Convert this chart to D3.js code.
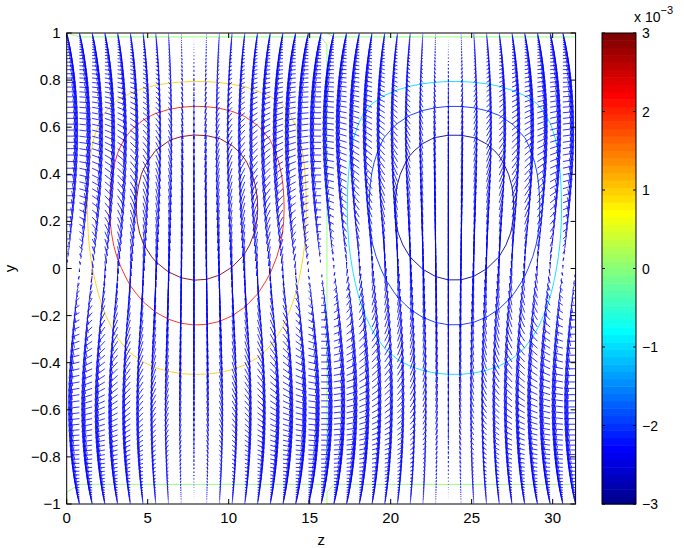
<!DOCTYPE html>
<html><head><meta charset="utf-8">
<script src="https://cdn.jsdelivr.net/npm/d3@7"></script>
<style>
body{margin:0;background:#fff}
svg{display:block}
text{font-family:"Liberation Sans",Arial,Helvetica,sans-serif;fill:#000}
</style>
</head><body>
<svg id="fig" width="684" height="548"></svg>
<script>
// ---- grid (spanwise z, wall-normal y) ----
const zGrid = [0, 0.7854, 1.5708, 2.3562, 3.1416, 3.9270, 4.7124, 5.4978, 6.2832, 7.0686,
  7.8540, 8.6394, 9.4248, 10.2102, 10.9956, 11.7810, 12.5664, 13.3518, 14.1372, 14.9226,
  15.7080, 16.4934, 17.2788, 18.0642, 18.8496, 19.6350, 20.4204, 21.2058, 21.9911, 22.7765,
  23.5619, 24.3473, 25.1327, 25.9181, 26.7035, 27.4889, 28.2743, 29.0597, 29.8451, 30.6305, 31.4159];
// spanwise phase of the roll velocities in each column
const sinCol = [0, .1564, .3090, .4540, .5878, .7071, .8090, .8910, .9511, .9877, 1, .9877, .9511, .8910, .8090, .7071, .5878, .4540, .3090, .1564,
  0, -.1564, -.3090, -.4540, -.5878, -.7071, -.8090, -.8910, -.9511, -.9877, -1, -.9877, -.9511, -.8910, -.8090, -.7071, -.5878, -.4540, -.3090, -.1564, 0];
const cosCol = [1, .9877, .9511, .8910, .8090, .7071, .5878, .4540, .3090, .1564, 0, -.1564, -.3090, -.4540, -.5878, -.7071, -.8090, -.8910, -.9511, -.9877,
  -1, -.9877, -.9511, -.8910, -.8090, -.7071, -.5878, -.4540, -.3090, -.1564, 0, .1564, .3090, .4540, .5878, .7071, .8090, .8910, .9511, .9877, 1];
// spanwise shape of the streak in each column
const streakCol = [0, .1529, .3023, .4445, .5763, .6946, .7963, .8795, .9419, .9823, .9994, .9929, .9635, .9111, .8373, .7443, .6327, .5073, .3698, .2226,
  .0707, -.0844, -.2391, -.3878, -.5271, -.6534, -.7636, -.8548, -.9255, -.9735, -.9972, -.9966, -.9716, -.9223, -.8510, -.7585, -.6478, -.5211, -.3816, -.2313, -.0766];

// rows of the arrow field
const yRows = [1, .9995, .9980, .9956, .9921, .9877, .9823, .9759, .9686, .9603, .9511, .9409, .9298, .9178, .9048, .8910, .8763, .8607, .8443, .8271,
  .8090, .7902, .7705, .7501, .7290, .7071, .6846, .6613, .6374, .6129, .5878, .5621, .5358, .5090, .4818, .4540, .4258, .3971, .3681, .3387,
  .3090, .2790, .2487, .2181, .1874, .1564, .1253, .0941, .0628, .0314, 0,
  -.0314, -.0628, -.0941, -.1253, -.1564, -.1874, -.2181, -.2487, -.2790, -.3090, -.3387, -.3681, -.3971, -.4258, -.4540, -.4818, -.5090, -.5358, -.5621,
  -.5878, -.6129, -.6374, -.6613, -.6846, -.7071, -.7290, -.7501, -.7705, -.7902, -.8090, -.8271, -.8443, -.8607, -.8763, -.8910, -.9048, -.9178, -.9298,
  -.9409, -.9511, -.9603, -.9686, -.9759, -.9823, -.9877, -.9921, -.9956, -.9980, -.9995, -1];
// wall-normal velocity amplitude per row
const vProfile = [0, 0, 0, -.0001, -.0002, -.0006, -.0012, -.0023, -.0038, -.0061, -.0091, -.0132, -.0184, -.0249, -.0329, -.0425, -.0539, -.0671, -.0824, -.0998,
  -.1194, -.1411, -.1651, -.1913, -.2196, -.2500, -.2824, -.3166, -.3525, -.3898, -.4284, -.4679, -.5082, -.5489, -.5897, -.6303, -.6703, -.7094, -.7473, -.7837,
  -.8181, -.8504, -.8801, -.9071, -.9310, -.9517, -.9688, -.9824, -.9921, -.9980, -1,
  -.9980, -.9921, -.9824, -.9688, -.9517, -.9310, -.9071, -.8801, -.8504, -.8181, -.7837, -.7473, -.7094, -.6703, -.6303, -.5897, -.5489, -.5082, -.4679,
  -.4284, -.3898, -.3525, -.3166, -.2824, -.2500, -.2196, -.1913, -.1651, -.1411, -.1194, -.0998, -.0824, -.0671, -.0539, -.0425, -.0329, -.0249, -.0184,
  -.0132, -.0091, -.0061, -.0038, -.0023, -.0012, -.0006, -.0002, -.0001, 0, 0, 0];
// spanwise velocity amplitude per row
const wProfile = [0, .020, .079, .176, .312, .483, .690, .929, 1.198, 1.495, 1.816, 2.159, 2.520, 2.895, 3.281, 3.673, 4.068, 4.461, 4.848, 5.226,
  5.590, 5.937, 6.261, 6.561, 6.832, 7.071, 7.275, 7.442, 7.569, 7.653, 7.694, 7.690, 7.640, 7.543, 7.399, 7.208, 6.972, 6.690, 6.365, 5.998,
  5.590, 5.146, 4.666, 4.155, 3.616, 3.052, 2.467, 1.866, 1.251, .628, 0,
  -.628, -1.251, -1.866, -2.467, -3.052, -3.616, -4.155, -4.666, -5.146, -5.590, -5.998, -6.365, -6.690, -6.972, -7.208, -7.399, -7.543, -7.640, -7.690,
  -7.694, -7.653, -7.569, -7.442, -7.275, -7.071, -6.832, -6.561, -6.261, -5.937, -5.590, -5.226, -4.848, -4.461, -4.068, -3.673, -3.281, -2.895, -2.520,
  -2.159, -1.816, -1.495, -1.198, -.929, -.690, -.483, -.312, -.176, -.079, -.020, 0];

// streak amplitude (x 10^-3) on an even y grid, y = 1 ... -1 step 0.05
const yLevels = [1, .95, .9, .85, .8, .75, .7, .65, .6, .55, .5, .45, .4, .35, .3, .25, .2, .15, .1, .05, 0,
  -.05, -.1, -.15, -.2, -.25, -.3, -.35, -.4, -.45, -.5, -.55, -.6, -.65, -.7, -.75, -.8, -.85, -.9, -.95, -1];
const streakProfile = [-.06, .12, .38, .66, .95, 1.38, 1.90, 2.35, 2.75, 3.13, 3.42, 3.65, 3.83, 3.95, 4.02, 4.04, 4.00, 3.90, 3.74, 3.52, 3.26,
  3.00, 2.73, 2.46, 2.20, 1.95, 1.71, 1.48, 1.24, 1.00, .84, .70, .58, .46, .36, .27, .18, .10, .02, -.04, -.06];
const contourLevels = [-3, -2, -1, 0, 1, 2, 3];

// axis ticks
const zTicks = [0, 5, 10, 15, 20, 25, 30];
const yTicks = [-1, -0.8, -0.6, -0.4, -0.2, 0, 0.2, 0.4, 0.6, 0.8, 1];
const cbTicks = [-3, -2, -1, 0, 1, 2, 3];

// ---- layout ----
const svg = d3.select('#fig');
const L = 66.7, R = 575.6, T = 33, B = 504;
const x = d3.scaleLinear().domain([zGrid[0], zGrid[zGrid.length - 1]]).range([L, R]);
const y = d3.scaleLinear().domain([-1, 1]).range([B, T]);

// MATLAB-style jet colormap with 64 entries
function jet(m) {
  const n = Math.ceil(m / 4), u = [];
  for (let i = 1; i <= n; i++) u.push(i / n);
  for (let i = 1; i < n; i++) u.push(1);
  for (let i = n; i >= 1; i--) u.push(i / n);
  const g0 = Math.ceil(n / 2) - (m % 4 === 1 ? 1 : 0);
  const map = Array.from({length: m}, () => [0, 0, 0]);
  u.forEach((val, k) => {
    const g = g0 + k + 1, r = g + n, b = g - n;
    if (g >= 1 && g <= m) map[g - 1][1] = val;
    if (r >= 1 && r <= m) map[r - 1][0] = val;
    if (b >= 1 && b <= m) map[b - 1][2] = val;
  });
  return map.map(c => d3.rgb(c[0] * 255, c[1] * 255, c[2] * 255).toString());
}
const cmap = jet(64);
const cmin = -3, cmax = 3;
const colorOf = v => cmap[Math.max(0, Math.min(63, Math.floor((v - cmin) / (cmax - cmin) * 64)))];

svg.append('clipPath').attr('id', 'pc').append('rect')
  .attr('x', L).attr('y', T).attr('width', R - L).attr('height', B - T);
const plot = svg.append('g').attr('clip-path', 'url(#pc)');

// ---- contours of the streak field ----
const nx = zGrid.length, ny = yLevels.length;
const psi = new Array(nx * ny);
for (let j = 0; j < ny; j++) for (let i = 0; i < nx; i++) psi[j * nx + i] = streakProfile[j] * streakCol[i];
const ix = d3.scaleLinear().domain([0, nx - 1]).range([zGrid[0], zGrid[nx - 1]]);
const iy = d3.scaleLinear().domain([0, ny - 1]).range([yLevels[0], yLevels[ny - 1]]);
const gen = d3.contours().size([nx, ny]).thresholds(contourLevels);
gen(psi).forEach(c => {
  const pieces = [];
  const onEdge = (p, q) => (p[0] === 0 && q[0] === 0) || (p[0] === nx && q[0] === nx) ||
                           (p[1] === 0 && q[1] === 0) || (p[1] === ny && q[1] === ny);
  c.coordinates.forEach(poly => poly.forEach(ring => {
    let cur = null;
    for (let k = 0; k < ring.length - 1; k++) {
      const p = ring[k], q = ring[k + 1];
      if (onEdge(p, q)) { cur = null; continue; }
      if (!cur) { cur = [p]; pieces.push(cur); }
      cur.push(q);
    }
  }));
  const toXY = p => [x(ix(Math.max(0, Math.min(nx - 1, p[0] - 0.5)))), y(iy(Math.max(0, Math.min(ny - 1, p[1] - 0.5))))];
  const line = d3.line();
  plot.append('path')
    .attr('d', pieces.map(pc => line(pc.map(toXY))).join(''))
    .attr('fill', 'none').attr('stroke', colorOf(c.value)).attr('stroke-width', 0.9);
});

// ---- quiver (MATLAB autoscale and arrow heads) ----
const m = yRows.length, n = zGrid.length;
const U = [], V = [];
for (let j = 0; j < m; j++) for (let i = 0; i < n; i++) {
  U.push(wProfile[j] * cosCol[i]);
  V.push(vProfile[j] * sinCol[i]);
}
const delx = (d3.max(zGrid) - d3.min(zGrid)) / n;
const dely = (d3.max(yRows) - d3.min(yRows)) / m;
const del = delx * delx + dely * dely;
const maxlen = d3.max(U.map((u, k) => Math.sqrt((u * u + V[k] * V[k]) / del)));
const sc = 0.9 / maxlen;
const alpha = 0.33, beta = 0.33, eps = 2.2e-16;
let d = '';
const f = v => v.toFixed(2);
for (let j = 0; j < m; j++) for (let i = 0; i < n; i++) {
  const k = j * n + i, u = U[k] * sc, v = V[k] * sc, z0 = zGrid[i], y0 = yRows[j];
  const tx = z0 + u, ty = y0 + v;
  d += `M${f(x(z0))},${f(y(y0))}L${f(x(tx))},${f(y(ty))}`;
  const h1x = tx - alpha * (u + beta * (v + eps)), h1y = ty - alpha * (v - beta * (u + eps));
  const h2x = tx - alpha * (u - beta * (v + eps)), h2y = ty - alpha * (v + beta * (u + eps));
  d += `M${f(x(h1x))},${f(y(h1y))}L${f(x(tx))},${f(y(ty))}L${f(x(h2x))},${f(y(h2y))}`;
}
plot.append('path').attr('d', d).attr('fill', 'none').attr('stroke', '#0000ff').attr('stroke-width', 0.8);

// ---- axes box and ticks ----
const ax = svg.append('g');
ax.append('rect').attr('x', L).attr('y', T).attr('width', R - L).attr('height', B - T)
  .attr('fill', 'none').attr('stroke', '#000').attr('stroke-width', 1);
const tk = 5;
zTicks.forEach(t => {
  ax.append('line').attr('x1', x(t)).attr('x2', x(t)).attr('y1', B).attr('y2', B - tk).attr('stroke', '#000');
  ax.append('line').attr('x1', x(t)).attr('x2', x(t)).attr('y1', T).attr('y2', T + tk).attr('stroke', '#000');
  ax.append('text').attr('x', x(t)).attr('y', B + 19).attr('text-anchor', 'middle').attr('font-size', 15).text(t);
});
const fmtY = t => (t < 0 ? '\u2212' : '') + d3.format('')(Math.abs(t));
yTicks.forEach(t => {
  ax.append('line').attr('x1', L).attr('x2', L + tk).attr('y1', y(t)).attr('y2', y(t)).attr('stroke', '#000');
  ax.append('line').attr('x1', R).attr('x2', R - tk).attr('y1', y(t)).attr('y2', y(t)).attr('stroke', '#000');
  ax.append('text').attr('x', L - 6).attr('y', y(t) + 5).attr('text-anchor', 'end').attr('font-size', 15).text(fmtY(t));
});
ax.append('text').attr('x', (L + R) / 2).attr('y', 545).attr('text-anchor', 'middle').attr('font-size', 15).text('z');
ax.append('text').attr('transform', `translate(15,${y(0)}) rotate(-90)`).attr('text-anchor', 'middle').attr('font-size', 15).text('y');

// ---- colorbar ----
const cbL = 602, cbR = 636;
const cy = d3.scaleLinear().domain([cmin, cmax]).range([B, T]);
const cb = svg.append('g');
cmap.forEach((c, i) => {
  const v0 = cmin + i * (cmax - cmin) / 64, v1 = cmin + (i + 1) * (cmax - cmin) / 64;
  cb.append('rect').attr('x', cbL).attr('y', cy(v1)).attr('width', cbR - cbL).attr('height', cy(v0) - cy(v1) + 0.5).attr('fill', c);
});
cb.append('rect').attr('x', cbL).attr('y', T).attr('width', cbR - cbL).attr('height', B - T)
  .attr('fill', 'none').attr('stroke', '#000');
cbTicks.forEach(t => {
  cb.append('line').attr('x1', cbL).attr('x2', cbL + 3).attr('y1', cy(t)).attr('y2', cy(t)).attr('stroke', '#000');
  cb.append('line').attr('x1', cbR).attr('x2', cbR - 3).attr('y1', cy(t)).attr('y2', cy(t)).attr('stroke', '#000');
  cb.append('text').attr('x', cbR + 6).attr('y', cy(t) + 5).attr('font-size', 14).text(fmtY(t));
});
const ex = cb.append('text').attr('x', 634).attr('y', 22).attr('font-size', 14);
ex.append('tspan').text('x 10');
ex.append('tspan').attr('dy', -8).attr('font-size', 11).text('\u22123');
</script>
</body></html>
